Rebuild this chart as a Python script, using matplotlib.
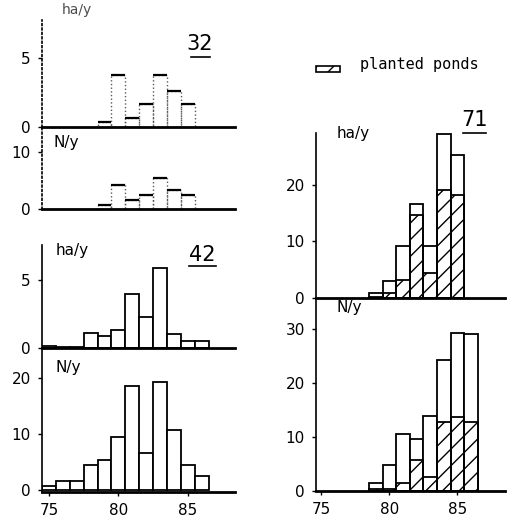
import numpy as np
import matplotlib.pyplot as plt

# site 32 (ha/y and N/y), years 79-85
years_32 = [79, 80, 81, 82, 83, 84, 85]
ha_32 = [0.35, 3.8, 0.65, 1.7, 3.8, 2.6, 1.7]
n_32 = [0.7, 4.2, 1.6, 2.5, 5.4, 3.3, 2.5]

# site 42, years 75-86
years_42 = [75, 76, 77, 78, 79, 80, 81, 82, 83, 84, 85, 86]
ha_42 = [0.15, 0.1, 0.1, 1.1, 0.85, 1.3, 4.0, 2.3, 5.9, 1.05, 0.5, 0.5]
n_42 = [0.7, 1.6, 1.6, 4.5, 5.4, 9.5, 18.7, 6.7, 19.3, 10.7, 4.5, 2.5]

# site 71, total and planted ponds
years_71_ha = [79, 80, 81, 82, 83, 84, 85]
ha_71 = [0.9, 3.0, 9.2, 16.6, 9.2, 29.1, 25.3]
ha_71_planted = [0.2, 0.8, 3.2, 14.7, 4.4, 19.2, 18.2]
years_71_n = [79, 80, 81, 82, 83, 84, 85, 86]
n_71 = [1.5, 4.9, 10.5, 9.6, 13.9, 24.3, 29.2, 29.0]
n_71_planted = [0.3, 0.3, 1.5, 5.7, 2.5, 12.8, 13.7, 12.8]

xticks = [75, 80, 85]

plt.rcParams['font.family'] = 'DejaVu Sans'
plt.rcParams['hatch.linewidth'] = 1.0
fig = plt.figure(figsize=(5.17, 5.20), dpi=100)

W, H = 517.0, 520.0
def add_ax(x0, y0, x1, y1):
    # pixel box -> figure fraction
    return fig.add_axes([x0 / W, 1 - y1 / H, (x1 - x0) / W, (y1 - y0) / H])

def style(ax, yt, xlim, ylim, xlab=False, dotted=False):
    ax.set_xlim(*xlim)
    ax.set_ylim(*ylim)
    ax.spines['top'].set_visible(False)
    ax.spines['right'].set_visible(False)
    ax.spines['bottom'].set_linewidth(2)
    ax.spines['left'].set_linewidth(1.2)
    if dotted:
        ax.spines['left'].set_linestyle(':')
    ax.set_yticks(yt)
    ax.tick_params(axis='y', length=3, width=1, labelsize=11, pad=5)
    if xlab:
        ax.set_xticks(xticks)
        ax.tick_params(axis='x', length=3, width=1, labelsize=11, pad=5)
    else:
        ax.set_xticks([])
    ax.patch.set_alpha(0)

lx = (74.5, 88.4)
rx = (74.6, 88.5)

# 32
a1 = add_ax(42, 20, 235, 127)
a1.bar(years_32, ha_32, width=1, fill=False, edgecolor='0.35', linestyle=':', linewidth=1)
a1.hlines(ha_32, np.array(years_32) - 0.5, np.array(years_32) + 0.5, color='black', linewidth=1.6)
style(a1, [0, 5], lx, (0, 7.75), dotted=True)
a1.text(0.1, 1.03, 'ha/y', transform=a1.transAxes, fontsize=10, color='0.3', va='bottom')
a1.text(158/193, 0.72, '32', transform=a1.transAxes, fontsize=15, ha='center')
a1.plot([0.77, 0.87], [0.65, 0.65], transform=a1.transAxes, color='black', linewidth=1.2)

a2 = add_ax(42, 127, 235, 209)
a2.bar(years_32, n_32, width=1, fill=False, edgecolor='0.35', linestyle=':', linewidth=1)
a2.hlines(n_32, np.array(years_32) - 0.5, np.array(years_32) + 0.5, color='black', linewidth=1.6)
style(a2, [0, 10], lx, (0, 14.4), dotted=True)
a2.text(0.06, 0.75, 'N/y', transform=a2.transAxes, fontsize=11)

# 42
b1 = add_ax(42, 245, 235, 348)
b1.bar(years_42, ha_42, width=1, facecolor='white', edgecolor='black', linewidth=1.3)
style(b1, [0, 5], lx, (0, 7.6))
b1.text(0.07, 0.9, 'ha/y', transform=b1.transAxes, fontsize=11)
b1.text(0.83, 0.84, '42', transform=b1.transAxes, fontsize=15, ha='center')
b1.plot([0.76, 0.90], [0.80, 0.80], transform=b1.transAxes, color='black', linewidth=1.2)

b2 = add_ax(42, 348, 235, 492)
b2.bar(years_42, n_42, width=1, facecolor='white', edgecolor='black', linewidth=1.3)
style(b2, [0, 10, 20], lx, (-0.3, 25.4), xlab=True)
b2.text(0.07, 0.83, 'N/y', transform=b2.transAxes, fontsize=11)

# 71
c1 = add_ax(316, 133, 505, 298)
c1.bar(years_71_ha, ha_71, width=1, facecolor='white', edgecolor='black', linewidth=1.3)
c1.bar(years_71_ha, ha_71_planted, width=1, fill=False, hatch='//', edgecolor='black', linewidth=1.3)
style(c1, [0, 10, 20], rx, (0, 29.2))
c1.text(0.11, 0.97, 'ha/y', transform=c1.transAxes, fontsize=11)
c1.text(0.84, 1.04, '71', transform=c1.transAxes, fontsize=15, ha='center')
c1.plot([0.78, 0.9], [1.0, 1.0], transform=c1.transAxes, color='black', linewidth=1.2, clip_on=False)

c2 = add_ax(316, 298, 505, 491)
c2.bar(years_71_n, n_71, width=1, facecolor='white', edgecolor='black', linewidth=1.3)
c2.bar(years_71_n, n_71_planted, width=1, fill=False, hatch='//', edgecolor='black', linewidth=1.3)
style(c2, [0, 10, 20, 30], rx, (0, 35.7), xlab=True)
c2.text(0.11, 0.93, 'N/y', transform=c2.transAxes, fontsize=11)

# legend
fig.patches.append(plt.Rectangle((316 / W, 1 - 72 / H), 24 / W, 6 / H, transform=fig.transFigure,
                                 fill=False, hatch='//', edgecolor='black', linewidth=1.2))
fig.text(360 / W, 1 - 64 / H, 'planted ponds', fontsize=11, family='DejaVu Sans Mono', va='center')

fig.savefig('out.png', dpi=100)
